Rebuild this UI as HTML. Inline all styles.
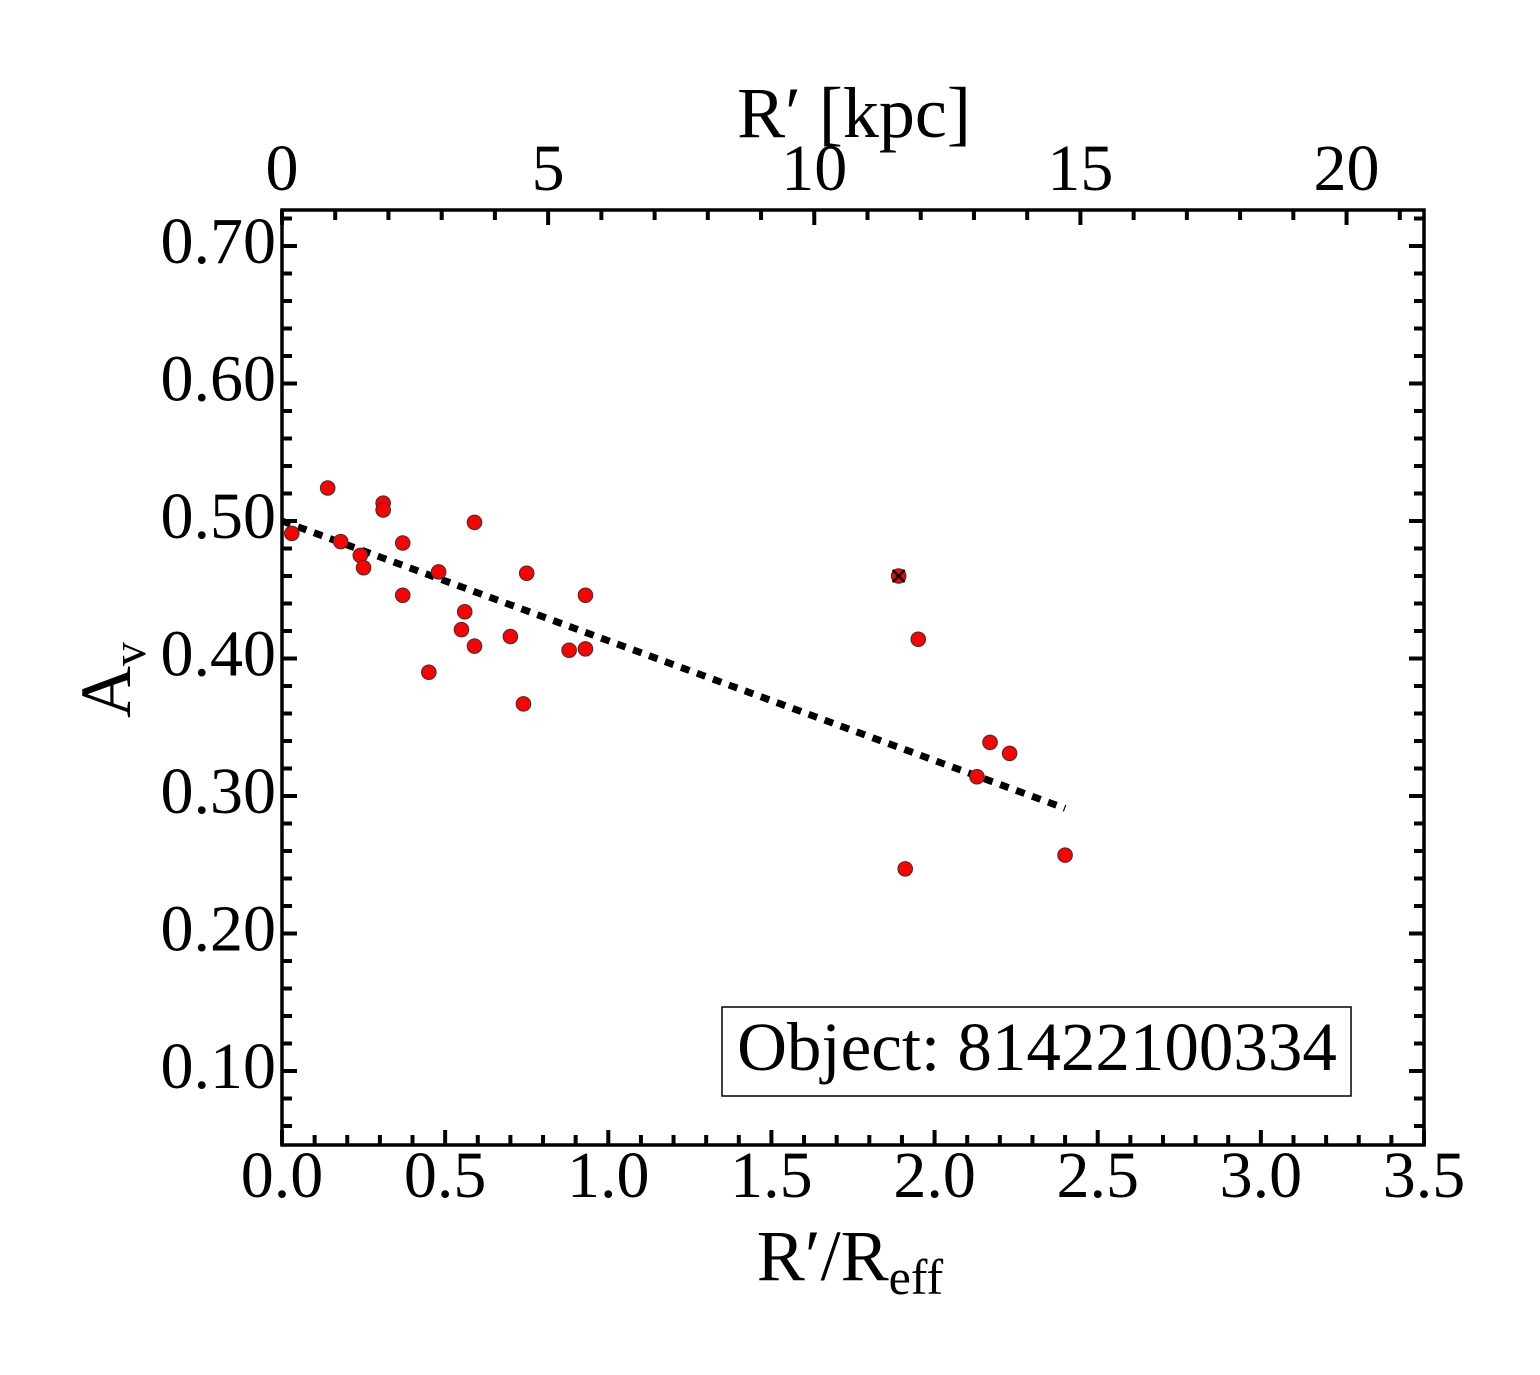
<!DOCTYPE html>
<html><head><meta charset="utf-8"><style>
html,body{margin:0;padding:0;background:#fff;}
svg{display:block;font-family:"Liberation Serif",serif;}
</style></head><body>
<svg id="chart" width="1540" height="1375" viewBox="0 0 1540 1375" xmlns="http://www.w3.org/2000/svg">
<g id="ticks"></g>
<g id="line"></g>
<g id="points"></g>
<rect x="282" y="210" width="1142" height="935" fill="none" stroke="#000" stroke-width="3.5"/>
<g id="labels" font-size="66" fill="#000"></g>
<text x="850" y="1280" font-size="72" text-anchor="middle">R′/R<tspan font-size="50" dy="14">eff</tspan></text>
<text x="854" y="137" font-size="72" text-anchor="middle">R′ [kpc]</text>
<text transform="translate(130,680) rotate(-90)" font-size="72" text-anchor="middle">A<tspan font-size="48" dy="15">v</tspan></text>
<g>
<rect x="722" y="1007" width="629" height="89" fill="#fff" stroke="#000" stroke-width="1.5"/>
<text x="1037" y="1070" font-size="69" text-anchor="middle">Object: 81422100334</text>
</g>
</svg>
<script>
const xVals=[0.03,0.14,0.18,0.24,0.25,0.31,0.31,0.37,0.37,0.45,0.48,0.55,0.56,0.59,0.59,0.70,0.74,0.75,0.88,0.93,0.93,1.89,1.95,1.91,2.13,2.17,2.23,2.40];
const yVals=[0.491,0.524,0.485,0.475,0.466,0.513,0.508,0.484,0.446,0.390,0.463,0.421,0.434,0.499,0.409,0.416,0.367,0.462,0.406,0.446,0.407,0.460,0.414,0.247,0.314,0.339,0.331,0.257];
const flagged=[false,false,false,false,false,false,false,false,false,false,false,false,false,false,false,false,false,false,false,false,false,true,false,false,false,false,false,false];
const fitX=[0.0,2.40];
const fitY=[0.500,0.291];
const xTicks=["0.0","0.5","1.0","1.5","2.0","2.5","3.0","3.5"];
const yTicks=["0.10","0.20","0.30","0.40","0.50","0.60","0.70"];
const kpcTicks=["0","5","10","15","20"];
const kpcPerReff=6.13;
const NS="http://www.w3.org/2000/svg";
const L=282,R=1424,T=210,B=1145;
function sx(v){return L+v*(R-L)/3.5;}
function sy(v){return 1071-(v-0.10)*1375;}
function sk(k){return L+(k/kpcPerReff)*(R-L)/3.5;}
function mk(tag,attrs,parent){const e=document.createElementNS(NS,tag);for(const k in attrs)e.setAttribute(k,attrs[k]);parent.appendChild(e);return e;}
const tg=document.getElementById('ticks'),lg=document.getElementById('labels');
for(let i=0;i<=35;i++){const v=i/10,x=sx(v),len=(i%5===0)?15:10;
 const t=mk('line',{x1:x,x2:x,y1:B,y2:B-len,stroke:'#000','stroke-width':4},tg);
 
 }
xTicks.forEach(s=>{const t=mk('text',{x:sx(parseFloat(s)),y:1197,'text-anchor':'middle'},lg);t.textContent=s;
 
 });
for(let k=0;k<=21;k++){const x=sk(k);if(x>R)break;const len=(k%5===0)?15:10;
 const t=mk('line',{x1:x,x2:x,y1:T,y2:T+len,stroke:'#000','stroke-width':4},tg);
 
 }
kpcTicks.forEach(s=>{const t=mk('text',{x:sk(parseFloat(s)),y:190,'text-anchor':'middle'},lg);t.textContent=s;
 
 });
for(let i=3;i<=36;i++){const v=i/50,y=sy(v);if(y<T||y>B)continue;const len=(i%5===0)?15:10;
 const a=mk('line',{x1:L,x2:L+len,y1:y,y2:y,stroke:'#000','stroke-width':4},tg);
 
 
 const b=mk('line',{x1:R,x2:R-len,y1:y,y2:y,stroke:'#000','stroke-width':4},tg);
 
 }
yTicks.forEach(s=>{const t=mk('text',{x:276,y:sy(parseFloat(s))+17,'text-anchor':'end'},lg);t.textContent=s;
 
 });
const fl=mk('line',{x1:sx(fitX[0]),y1:sy(fitY[0]),x2:sx(fitX[1]),y2:sy(fitY[1]),stroke:'#000','stroke-width':7,'stroke-dasharray':'9 8'},document.getElementById('line'));


const pg=document.getElementById('points');
xVals.forEach((v,i)=>{const cx=sx(v),cy=sy(yVals[i]);
 const c=mk('circle',{cx:cx,cy:cy,r:7.3,fill:'#f00',stroke:'#333','stroke-width':1},pg);
 
 
 if(flagged[i]){
  const p=mk('path',{d:`M${cx-6},${cy-6}L${cx+6},${cy+6}M${cx-6},${cy+6}L${cx+6},${cy-6}`,stroke:'#000','stroke-width':2.5},pg);
  
  
 }});
</script>
</body></html>
